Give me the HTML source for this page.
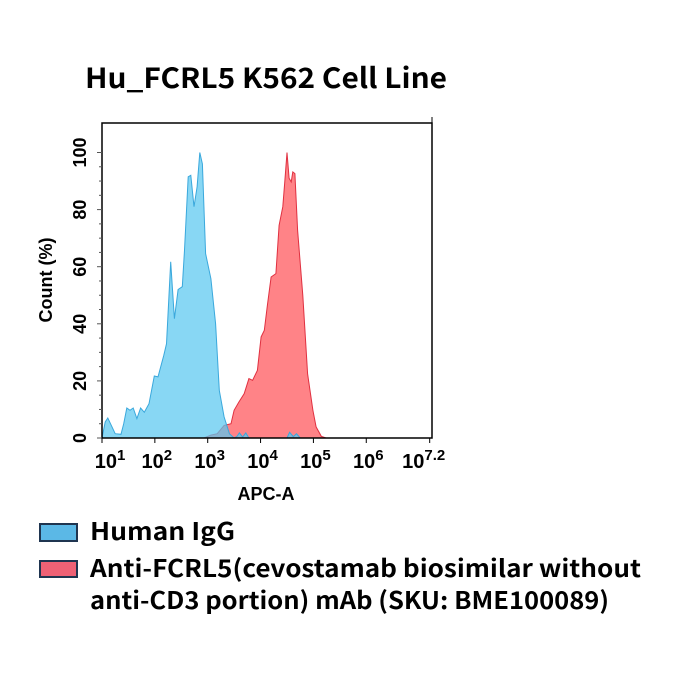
<!DOCTYPE html>
<html><head><meta charset="utf-8"><style>
html,body{margin:0;padding:0;background:#fff;}
svg{display:block;}
text{font-family:"Noto Sans CJK SC","Liberation Sans",sans-serif;font-weight:bold;fill:#000;}
.ax{font-family:"Liberation Sans",sans-serif;font-weight:bold;}
</style></head><body>
<svg id="chart" width="674" height="674" viewBox="0 0 674 674">
<text x="85" y="88" font-size="28" textLength="362" lengthAdjust="spacingAndGlyphs">Hu_FCRL5 K562 Cell Line</text>
<g id="plot"></g>
<text class="ax" x="266" y="500" font-size="18" text-anchor="middle">APC-A</text>
<text class="ax" transform="translate(52,280) rotate(-90)" font-size="18" text-anchor="middle">Count  (%)</text>
<rect x="40" y="524" width="37" height="17" fill="#5bb8e6" stroke="#1f3550" stroke-width="2"/>
<text x="90" y="540" font-size="24" textLength="145" lengthAdjust="spacingAndGlyphs">Human IgG</text>
<rect x="40" y="561" width="37" height="16" fill="#ee6175" stroke="#1f3550" stroke-width="2"/>
<text x="90" y="577" font-size="24" textLength="551" lengthAdjust="spacingAndGlyphs">Anti-FCRL5(cevostamab biosimilar without</text>
<text x="90" y="609" font-size="24" textLength="519" lengthAdjust="spacingAndGlyphs">anti-CD3 portion) mAb (SKU: BME100089)</text>
</svg>
<script>
const blueX=[1.0,1.06,1.11,1.16,1.25,1.36,1.41,1.47,1.53,1.59,1.66,1.73,1.80,1.89,1.99,2.06,2.17,2.22,2.30,2.37,2.44,2.52,2.56,2.63,2.68,2.74,2.80,2.85,2.90,2.96,3.06,3.15,3.22,3.31,3.41,3.5,3.55,3.6,3.66,3.72,3.78,4.5,4.55,4.62,4.68,4.75];
const blueY=[0,5.6,7,5,1.5,1.3,5,10.5,9.7,10.5,6.8,10.5,9,12,21.7,21.4,29,33,61.7,41.8,52,53,65.8,91.5,92,81,88,100,96,64.6,55.8,40,16.7,7.4,1.5,0,0.5,1.8,0.3,1.8,0,0,2,0.5,1.5,0];
const redX=[2.93,3.06,3.18,3.31,3.44,3.50,3.59,3.69,3.78,3.85,3.94,4.01,4.07,4.13,4.20,4.29,4.35,4.42,4.46,4.50,4.54,4.58,4.61,4.65,4.70,4.80,4.89,4.99,5.05,5.15,5.24];
const redY=[0,1,1.5,4.4,5,9.7,12.6,15.5,20.8,20.2,23.7,35.4,37.7,46.5,56.4,57.6,74.5,81,90.3,100,91,89.7,93.2,92.6,72.8,50,22.5,9.7,3.9,0.6,0];
const xTicks=[1,2,3,4,5,6,7.2];
const xTickExp=["1","2","3","4","5","6","7.2"];
const yTicks=[0,20,40,60,80,100];

const L=102,R=432,T=123,B=438;
const xs=v=>L+(v-1)*(R-L)/6.2*0.993;
const ys=v=>B-v*2.855;
const NS="http://www.w3.org/2000/svg";
const g=document.getElementById('plot');
function mk(t,a){const e=document.createElementNS(NS,t);for(const k in a)e.setAttribute(k,a[k]);g.appendChild(e);return e;}
function area(X,Y,fill,stroke,name){
  let d="M"+xs(X[0])+","+ys(0);
  for(let i=0;i<X.length;i++)d+=" L"+xs(X[i]).toFixed(1)+","+ys(Y[i]).toFixed(1);
  d+=" L"+xs(X[X.length-1])+","+ys(0)+"Z";
  const p=mk('path',{d:d,fill:fill,stroke:stroke,'stroke-width':1});
  
  
}
area(redX,redY,"rgba(255,90,95,0.75)","#e03040","series-anti-fcrl5");
area(blueX,blueY,"rgba(90,200,240,0.72)","#3aa8dc","series-human-igg");
const fr=mk('rect',{x:L,y:T,width:R-L,height:B-T,fill:'none',stroke:'#000','stroke-width':1.5});


mk('line',{x1:R,y1:T-6,x2:R,y2:T,stroke:'#000','stroke-width':1});
for(let v=0;v<=100;v+=5){const y=ys(v);mk('line',{x1:L-(v%20==0?5:3),y1:y,x2:L,y2:y,stroke:'#555','stroke-width':1});}
yTicks.forEach(v=>{
  const t=mk('text',{class:'ax',transform:`translate(${L-16},${ys(v)}) rotate(-90)`,'font-size':18,'text-anchor':'middle'});
  t.textContent=v;
  
  
});
xTicks.forEach((v,i)=>{
  const x=xs(v);
  mk('line',{x1:x,y1:B,x2:x,y2:B+5,stroke:'#000','stroke-width':1});
  const t=mk('text',{class:'ax',x:x+(i==0?8:(i==6?-6:2)),y:B+30,'font-size':20,'text-anchor':'middle'});
  t.textContent="10";
  const s=document.createElementNS(NS,'tspan');s.setAttribute('dy','-8');s.setAttribute('font-size','15');s.textContent=xTickExp[i];t.appendChild(s);
  
  
});
</script>
</body></html>
